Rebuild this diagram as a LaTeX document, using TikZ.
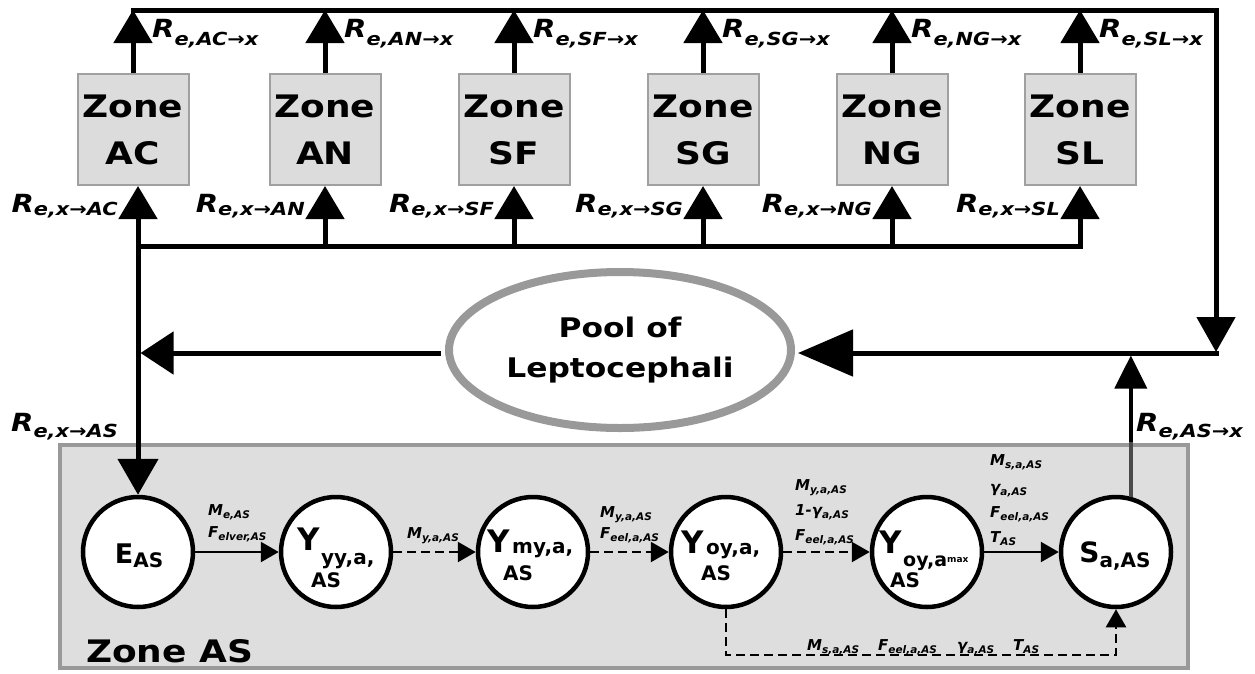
\documentclass[tikz,border=0pt]{standalone}
\usepackage{fontspec}
\setmainfont{DejaVu Sans}
\newfontfamily\widefont{DejaVu Sans}[FakeStretch=1.16]
\usetikzlibrary{arrows.meta,shapes.geometric,calc}
\definecolor{boxfill}{HTML}{DCDCDC}
\definecolor{boxline}{HTML}{A0A0A0}
\definecolor{poolline}{HTML}{999999}
\definecolor{asfill}{HTML}{DEDEDE}
\definecolor{inline}{HTML}{4A4A4A}
\newcommand{\fsz}[1]{\fontsize{#1}{#1}\selectfont}
\newcommand{\Rlab}[2][8]{{\widefont\bfseries\itshape{\fsz{25}R}{\fsz{18}\raisebox{-#1pt}{#2}}}}
\newcommand{\slab}[2]{{\bfseries\itshape{\fsz{15}#1}{\fsz{10.5}\raisebox{-3pt}{#2}}}}
\begin{document}
\begin{tikzpicture}[x=1pt,y=-1pt,line join=miter,
  zonebox/.style={draw=boxline,fill=boxfill,line width=2pt,minimum width=111pt,minimum height=111pt,inner sep=0pt,align=center,font=\widefont\fontsize{31}{47}\selectfont\bfseries},
  circ/.style={circle,draw=black,fill=white,line width=4.5pt,minimum size=110pt,inner sep=0pt},
  bigline/.style={line width=5pt},
  bigarrow/.style={line width=5pt,-{Triangle[width=38pt,length=33pt]}},
  solarrow/.style={line width=2.5pt,-{Triangle[width=20pt,length=18pt]}},
  dasharrow/.style={solarrow,dash pattern=on 9pt off 5pt},
  lab/.style={inner sep=0pt,anchor=base west},
  bigtxt/.style={inner sep=0pt,anchor=base west,font=\bfseries}]
\useasboundingbox (0,0) rectangle (1255,673);

% Zone AS box
\node[draw=poolline,fill=asfill,line width=3.5pt,minimum width=1128pt,minimum height=223pt,inner sep=0pt] (ASbox) at (624,556.5) {};
\node[bigtxt,font=\widefont\fontsize{31}{31}\selectfont\bfseries] (ASname) at (86,662) {Zone AS};

% zone boxes
\foreach \n/\x in {AC/133,AN/325,SF/514,SG/703,NG/892,SL/1080}{
  \node[zonebox] (\n) at (\x,129.5) {Zone\\\n};
}

% pool
\node[ellipse,draw=poolline,fill=white,line width=8pt,minimum width=342pt,minimum height=156pt,inner sep=0pt,align=center,font=\widefont\fontsize{27}{40}\selectfont\bfseries] (Pool) at (620,350) {Pool of\\Leptocephali};

% circles
\node[circ] (E) at (138,552) {};
\node[circ] (Yyy) at (336,552) {};
\node[circ] (Ymy) at (533,552) {};
\node[circ] (Yoy) at (726,552) {};
\node[circ] (Ymax) at (927,552) {};
\node[circ] (S) at (1116,552) {};

% coordinates
\coordinate (top) at (133,10);
\coordinate (tr) at (1216,10);
\coordinate (rj) at (1216,353);
\coordinate (dl) at (138,246);
\coordinate (dr) at (1080,246);
\coordinate (lv) at (138,353);
\coordinate (byp) at (0,655);

% top outflow lines
\draw[bigline,line cap=rect,-{Triangle[width=38pt,length=35pt]}] (AC.north |- top) -- (tr) -- ([yshift=1pt]rj);
\foreach \n in {AC,AN,SF,SG,NG,SL}{
  \draw[bigarrow] (\n.north) -- (\n.north |- top);
}
\draw[line width=5pt,shorten >=3pt,-{Triangle[width=46pt,length=55pt]}] ([xshift=2.5pt]rj) -- (rj -| Pool.east);
\draw[bigarrow,shorten <=4pt,-{Triangle[width=42pt,length=33pt]}] (Pool.west |- lv) -- ([xshift=2.5pt]lv);

% distribution
\draw[bigline,line cap=rect] (dl) -- (dr);
\draw[bigarrow] (dl) -- (dl |- AC.south);
\foreach \n in {AN,SF,SG,NG,SL}{
  \draw[bigarrow] (\n.south |- dl) -- (\n.south);
}
\draw[bigarrow,-{Triangle[width=40pt,length=36pt]}] (dl) -- (E.north);
\draw[line width=4pt,shorten >=2.5pt,-{Triangle[width=32pt,length=33pt]}] (S.75) -- (S.75 |- rj);
\draw[line width=4pt,inline] (S.75) -- ([yshift=1.75pt]S.75 |- ASbox.north);

% inner arrows
\draw[solarrow] (E) -- (Yyy);
\draw[dasharrow] (Yyy) -- (Ymy);
\draw[dasharrow] (Ymy) -- (Yoy);
\draw[dasharrow] (Yoy) -- (Ymax);
\draw[solarrow] (Ymax) -- (S);
\draw[dasharrow] (Yoy.south) -- (Yoy.south |- byp) -- (S.south |- byp) -- (S.south);

% R labels
\foreach \n/\x in {AC/133,AN/325,SF/514,SG/703,NG/892,SL/1080}{
  \node[lab] at ({\x+19},37) {\Rlab{e,\n→x}};
}
\foreach \n/\x in {AC/138,AN/325,SF/514,SG/703,NG/892,SL/1080}{
  \node[lab,anchor=base east] at ({\x-20},212) {\Rlab[3]{e,x→\n}};
}
\node[lab,anchor=base east] (RxAS) at (118,431) {\Rlab[6]{e,x→AS}};
\node[lab] (RASx) at (1136,431) {\Rlab[6]{e,AS→x}};

% circle texts
\node[inner sep=0pt,anchor=base,font=\bfseries] at (139,563) {{\fsz{27}E}{\fsz{20}\raisebox{-4pt}{AS}}};
\node[inner sep=0pt,anchor=base,font=\bfseries] at (1115,562) {{\fsz{28}S}{\fsz{20}\raisebox{-5pt}{a,AS}}};
\node[bigtxt] at (297,550) {\fsz{31}Y};
\node[bigtxt] at (321,564) {\fsz{20}yy,a,};
\node[bigtxt] at (311,587) {\fsz{20}AS};
\node[bigtxt] at (487,552) {\fsz{31}Y};
\node[bigtxt] at (512,553) {\fsz{20}my,a,};
\node[bigtxt] at (503,580) {\fsz{20}AS};
\node[bigtxt] at (681,553) {\fsz{31}Y};
\node[bigtxt] at (706,554) {\fsz{20}oy,a,};
\node[bigtxt] at (701,580) {\fsz{20}AS};
\node[bigtxt] at (879,553) {\fsz{31}Y};
\node[bigtxt] at (903,566) {\fsz{19}oy,a{\fsz{9}\raisebox{4pt}{max}}};
\node[bigtxt] at (890,587) {\fsz{20}AS};

% small labels
\node[lab] at (208,515) {\slab{M}{e,AS}};
\node[lab] at (208,537) {\slab{F}{elver,AS}};
\node[lab] at (407,538) {\slab{M}{y,a,AS}};
\node[lab] at (600,517) {\slab{M}{y,a,AS}};
\node[lab] at (600,538) {\slab{F}{eel,a,AS}};
\node[lab] at (795,490) {\slab{M}{y,a,AS}};
\node[lab] at (795,515) {\slab{1-γ}{a,AS}};
\node[lab] at (795,540) {\slab{F}{eel,a,AS}};
\node[lab] at (990,465) {\slab{M}{s,a,AS}};
\node[lab] at (990,492) {\slab{γ}{a,AS}};
\node[lab] at (990,517) {\slab{F}{eel,a,AS}};
\node[lab] at (990,542) {\slab{T}{AS}};
\node[lab] at (807,650) {\slab{M}{s,a,AS}};
\node[lab] at (878,650) {\slab{F}{eel,a,AS}};
\node[lab] at (957,650) {\slab{γ}{a,AS}};
\node[lab] at (1013,650) {\slab{T}{AS}};
\end{tikzpicture}
\end{document}
